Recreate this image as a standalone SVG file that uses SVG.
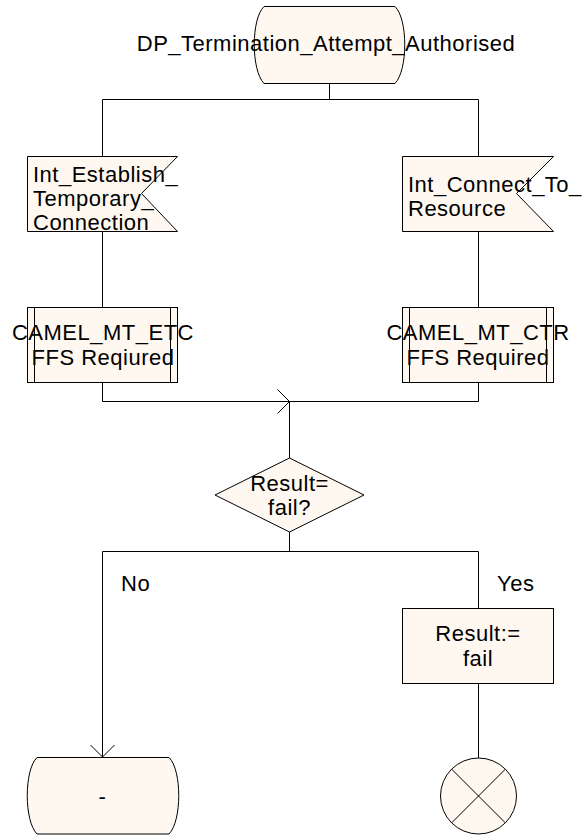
<svg xmlns="http://www.w3.org/2000/svg" width="586" height="836" viewBox="0 0 586 836">
<defs>
<style>
.s{fill:#fff8f1;stroke:#000;stroke-width:1}
.c{fill:none;stroke:#000;stroke-width:1}
.t{font-family:"Liberation Sans",Arial,sans-serif;font-size:22px;letter-spacing:0.5px;fill:#000}
.m{text-anchor:middle}
</style>
<marker id="arr" markerUnits="userSpaceOnUse" markerWidth="14" markerHeight="26" refX="12" refY="12" orient="auto" overflow="visible">
<path d="M0,0 L12,12 L0,24" fill="none" stroke="#000" stroke-width="1"/>
</marker>
</defs>
<rect width="586" height="836" fill="#fff"/>
<g id="connectors">
<path class="c" d="M329.5,83 V99.5"/>
<path class="c" d="M102.5,99.5 H478.5"/>
<path class="c" d="M102.5,99.5 V156"/>
<path class="c" d="M478.5,99.5 V156"/>
<path class="c" d="M102.5,231 V307"/>
<path class="c" d="M478.5,231 V307"/>
<path class="c" d="M478.5,382 V401.5 H289.5"/>
<path class="c" d="M102.5,382 V401.5 H289.5" marker-end="url(#arr)"/>
<path class="c" d="M289.5,401.5 V458"/>
<path class="c" d="M289.5,532 V551.5"/>
<path class="c" d="M102.5,551.5 H478.5"/>
<path class="c" d="M102.5,551.5 V757" marker-end="url(#arr)"/>
<path class="c" d="M478.5,551.5 V608"/>
<path class="c" d="M478.5,683 V758"/>
</g>
<g id="state_top">
<path class="s" d="M264,6.5 H395 C408,19 408,70 395,83.5 H264 C251,70 251,19 264,6.5 Z"/>
<text class="t m" x="326" y="51">DP_Termination_Attempt_Authorised</text>
</g>
<g id="signal_left">
<path class="s" d="M27.5,156.5 H177.5 L141.5,193.5 L177.5,231.5 H27.5 Z"/>
<text class="t" x="33" y="182">Int_Establish_</text>
<text class="t" x="33" y="206">Temporary_</text>
<text class="t" x="33" y="230">Connection</text>
</g>
<g id="signal_right">
<path class="s" d="M402.5,156.5 H553.5 L516.5,193.5 L553.5,231.5 H402.5 Z"/>
<text class="t" x="408" y="192">Int_Connect_To_</text>
<text class="t" x="408" y="216">Resource</text>
</g>
<g id="proc_left">
<rect class="s" x="27.5" y="307.5" width="150" height="75"/>
<path class="c" d="M34.5,307.5 V382.5 M170.5,307.5 V382.5"/>
<text class="t m" x="103" y="340">CAMEL_MT_ETC</text>
<text class="t m" x="103" y="365">FFS Reqiured</text>
</g>
<g id="proc_right">
<rect class="s" x="402.5" y="307.5" width="151" height="75"/>
<path class="c" d="M409.5,307.5 V382.5 M546.5,307.5 V382.5"/>
<text class="t m" x="478" y="340">CAMEL_MT_CTR</text>
<text class="t m" x="478" y="365">FFS Required</text>
</g>
<g id="decision">
<path class="s" d="M289.5,458 L364,495 L289.5,532 L215,495 Z"/>
<text class="t m" x="289.5" y="491">Result=</text>
<text class="t m" x="289.5" y="515">fail?</text>
</g>
<text class="t" x="121" y="591">No</text>
<text class="t" x="497" y="591">Yes</text>
<g id="task_result">
<rect class="s" x="402.5" y="608.5" width="151" height="75"/>
<text class="t m" x="478" y="641">Result:=</text>
<text class="t m" x="478" y="666">fail</text>
</g>
<g id="state_bottom">
<path class="s" d="M37,757.5 H169 C182,770 182,821 169,834 H37 C24,821 24,770 37,757.5 Z"/>
<text class="t m" x="102.5" y="804">-</text>
</g>
<g id="stop">
<circle class="s" cx="478.5" cy="796" r="38"/>
<path class="c" d="M451.6,769.1 L505.4,822.9 M505.4,769.1 L451.6,822.9"/>
</g>
</svg>
